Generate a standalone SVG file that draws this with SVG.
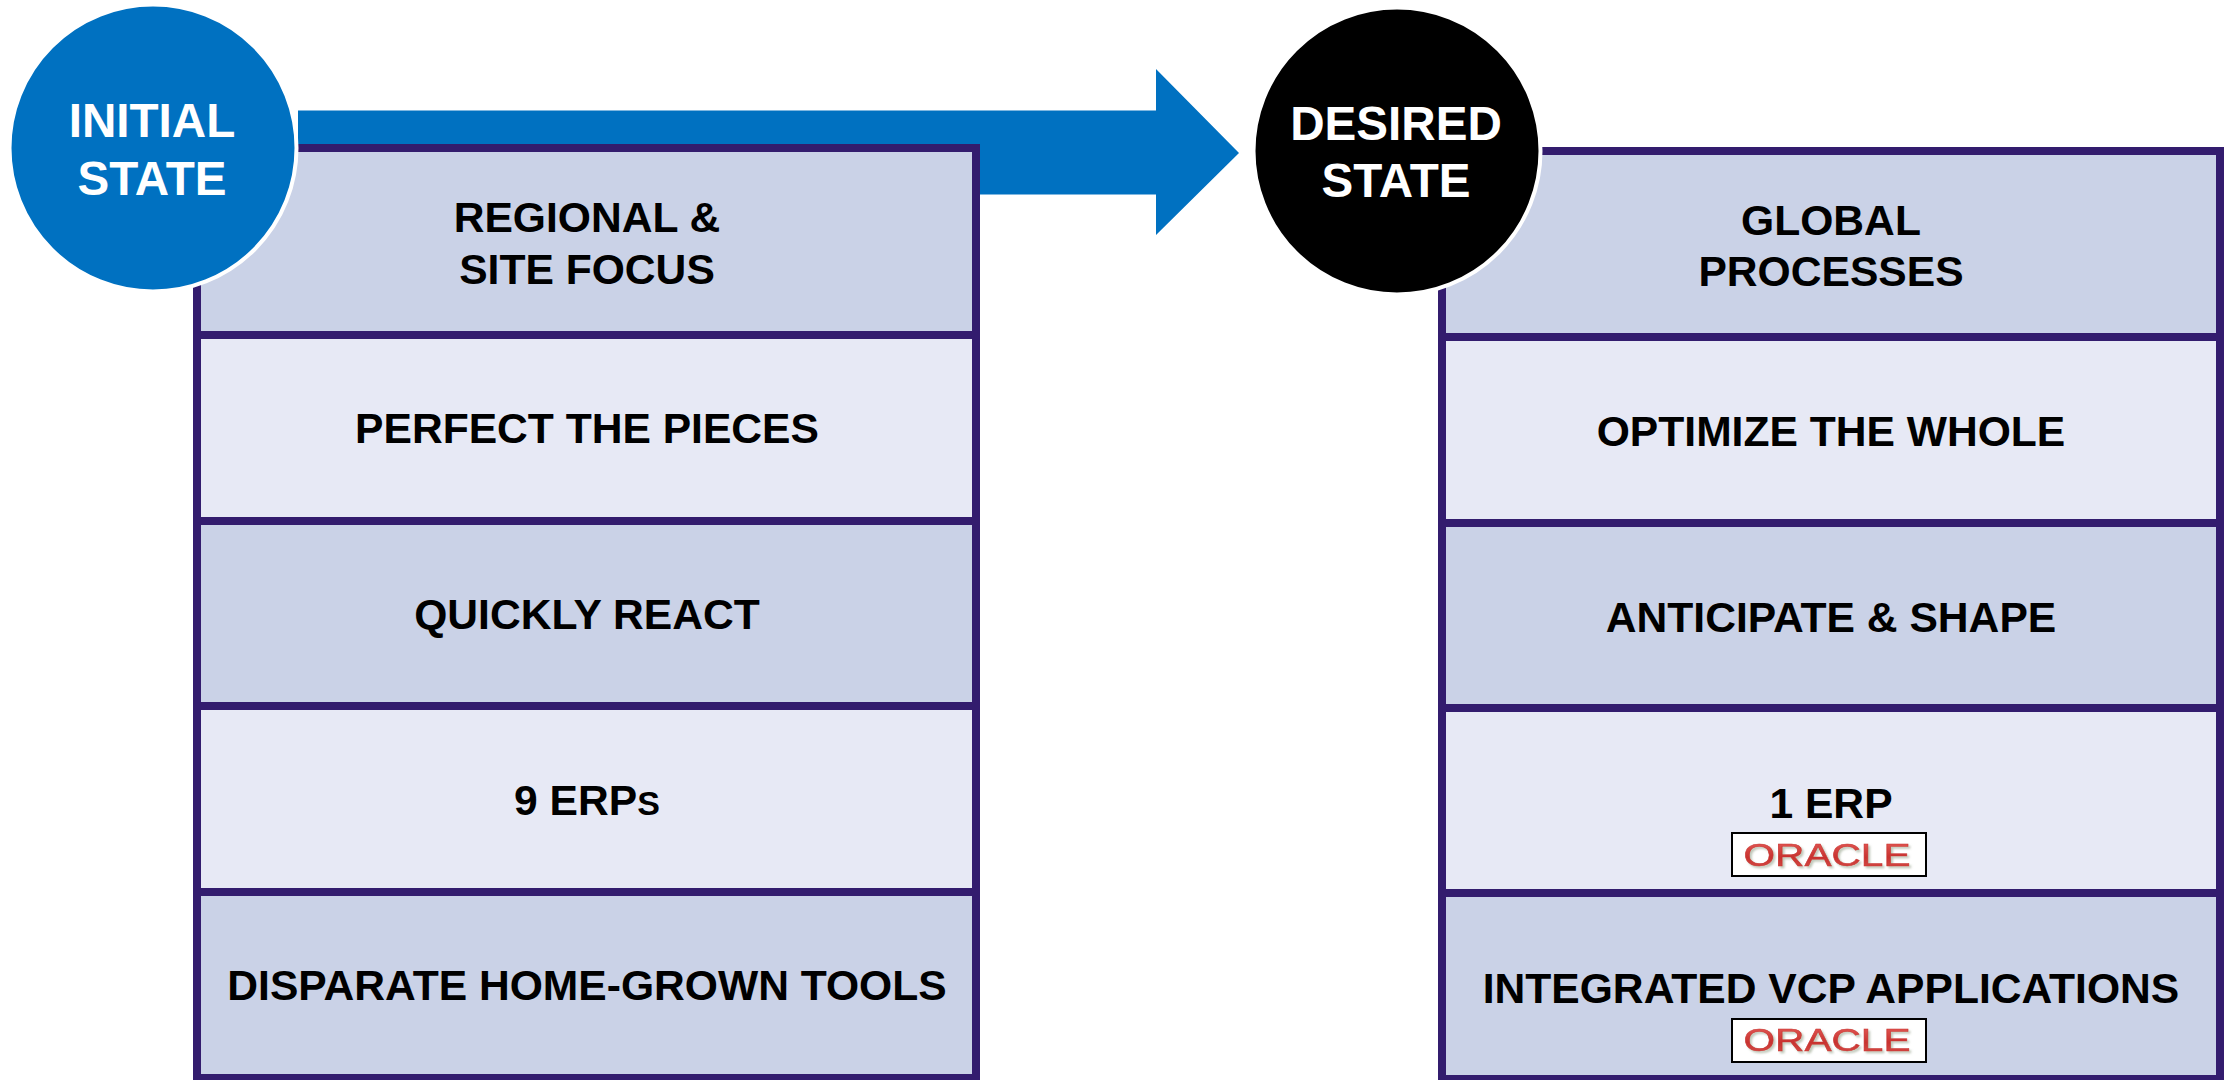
<svg xmlns="http://www.w3.org/2000/svg" width="2227" height="1080" viewBox="0 0 2227 1080">
<defs>
<linearGradient id="red" x1="0" y1="0" x2="0" y2="1"><stop offset="0" stop-color="#e8605c"/><stop offset=".55" stop-color="#c8322f"/><stop offset="1" stop-color="#d9544f"/></linearGradient>
<filter id="sh" x="-5%" y="-20%" width="110%" height="150%"><feDropShadow dx="2" dy="2" stdDeviation="1" flood-color="#8a9a80" flood-opacity=".55"/></filter>
</defs>
<style>
text{font-family:"Liberation Sans",Arial,sans-serif;font-weight:700;text-anchor:middle}
.l{font-size:42.6px;fill:#000}
.c{font-size:47.6px;fill:#fff}
.d{fill:#cad2e7;stroke:#331c6e;stroke-width:8}
.p{fill:#e7e9f5;stroke:#331c6e;stroke-width:8}
.o{fill:#fff;stroke:#000;stroke-width:2}
.t{font-size:31px;fill:url(#red);stroke:#c8322f;stroke-width:.5;font-weight:400;filter:url(#sh)}
</style>
<rect width="2227" height="1080" fill="#fff"/>
<g id="connectors"><polygon id="arrow" points="298,110.500 1156,110.500 1156,69 1239,153 1156,235 1156,194.500 298,194.500" fill="#0071c1"/></g>
<g id="left-1"><rect class="d" x="197" y="148" width="779" height="187"/><text class="l" x="587" y="232">REGIONAL &amp;</text><text class="l" x="587" y="284">SITE FOCUS</text></g>
<g id="left-2"><rect class="p" x="197" y="335" width="779" height="186"/><text class="l" x="587" y="443">PERFECT THE PIECES</text></g>
<g id="left-3"><rect class="d" x="197" y="521" width="779" height="185"/><text class="l" x="587" y="629">QUICKLY REACT</text></g>
<g id="left-4"><rect class="p" x="197" y="706" width="779" height="186"/><text class="l" x="587" y="815">9 ERP<tspan font-size="34">S</tspan></text></g>
<g id="left-5"><rect class="d" x="197" y="892" width="779" height="186"/><text class="l" x="587" y="1000">DISPARATE HOME-GROWN TOOLS</text></g>
<g id="right-1"><rect class="d" x="1442" y="151" width="778" height="186"/><text class="l" x="1831" y="235">GLOBAL</text><text class="l" x="1831" y="286">PROCESSES</text></g>
<g id="right-2"><rect class="p" x="1442" y="337" width="778" height="186"/><text class="l" x="1831" y="446">OPTIMIZE THE WHOLE</text></g>
<g id="right-3"><rect class="d" x="1442" y="523" width="778" height="185"/><text class="l" x="1831" y="632">ANTICIPATE &amp; SHAPE</text></g>
<g id="right-4"><rect class="p" x="1442" y="708" width="778" height="185"/><text class="l" x="1831" y="818">1 ERP</text>
<rect class="o" x="1732" y="833" width="194" height="43"/><text class="t" x="1827" y="866" textLength="167" lengthAdjust="spacingAndGlyphs">ORACLE</text></g>
<g id="right-5"><rect class="d" x="1442" y="893" width="778" height="186"/><text class="l" x="1831" y="1003">INTEGRATED VCP APPLICATIONS</text>
<rect class="o" x="1732" y="1019" width="194" height="43"/><text class="t" x="1827" y="1051" textLength="167" lengthAdjust="spacingAndGlyphs">ORACLE</text></g>
<g id="initial-state"><circle cx="153" cy="148" r="143.500" fill="#0071c1" stroke="#fff" stroke-width="4"/><text class="c" x="152" y="137">INITIAL</text><text class="c" x="152" y="195">STATE</text></g>
<g id="desired-state"><circle cx="1397" cy="151" r="143.500" fill="#000" stroke="#fff" stroke-width="4"/><text class="c" x="1396" y="140">DESIRED</text><text class="c" x="1396" y="197">STATE</text></g>
</svg>
